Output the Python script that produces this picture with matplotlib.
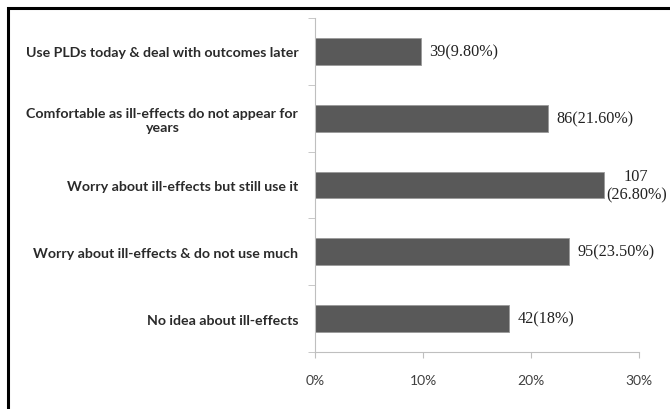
import matplotlib.pyplot as plt
from matplotlib.patches import Rectangle

categories = ['Use PLDs today & deal with outcomes later',
              'Comfortable as ill-effects do not appear for\nyears',
              'Worry about ill-effects but still use it',
              'Worry about ill-effects & do not use much',
              'No idea about ill-effects']
percent = [9.8, 21.6, 26.8, 23.5, 18.0]
labels = ['39(9.80%)', '86(21.60%)', '107\n(26.80%)', '95(23.50%)', '42(18%)']
x_ticks = [0, 10, 20, 30]
x_ticklabels = ['0%', '10%', '20%', '30%']

fig = plt.figure(figsize=(6.7, 4.1), dpi=100)
ax = fig.add_axes([315 / 670, 1 - 353 / 410, 324 / 670, 334 / 410])

ypos = list(range(len(categories)))[::-1]
ax.barh(ypos, percent, height=0.4, color='#595959', edgecolor='#9a9a9a', linewidth=0.6)

for y, v, t in zip(ypos, percent, labels):
    ax.annotate(t, (v, y), xytext=(6 if '\n' not in t else 1, 0), textcoords='offset points',
                ha='left', va='center', multialignment='center',
                fontsize=11.7, family='Liberation Serif', color='#222222')

ax.set_xlim(0, 30)
ax.set_ylim(-0.5, len(categories) - 0.5)
ax.set_xticks(x_ticks)
ax.set_xticklabels(x_ticklabels, family='Lato', fontsize=10, color='#404040')
ax.set_yticks(ypos)
ax.set_yticklabels(categories, family='Lato', fontsize=10.2, color='#2a2a2a',
                   fontweight='bold', multialignment='center')
ax.set_yticks([y + 0.5 for y in range(-1, len(categories))], minor=True)
ax.tick_params(axis='y', which='major', length=0, pad=12)
ax.tick_params(axis='y', which='minor', length=5, color='#bfbfbf')
ax.tick_params(axis='x', length=4, color='#bfbfbf', pad=12)

for s in ['top', 'right']:
    ax.spines[s].set_visible(False)
for s in ['left', 'bottom']:
    ax.spines[s].set_color('#bfbfbf')

# frame: only top and left edges are inside the picture
fig.patches.append(Rectangle((8 / 670, -0.1), 1.0, 1.1 - 8.5 / 410, transform=fig.transFigure,
                             fill=False, edgecolor='black', linewidth=2.2, clip_on=False))

plt.savefig('out.png', dpi=100)
